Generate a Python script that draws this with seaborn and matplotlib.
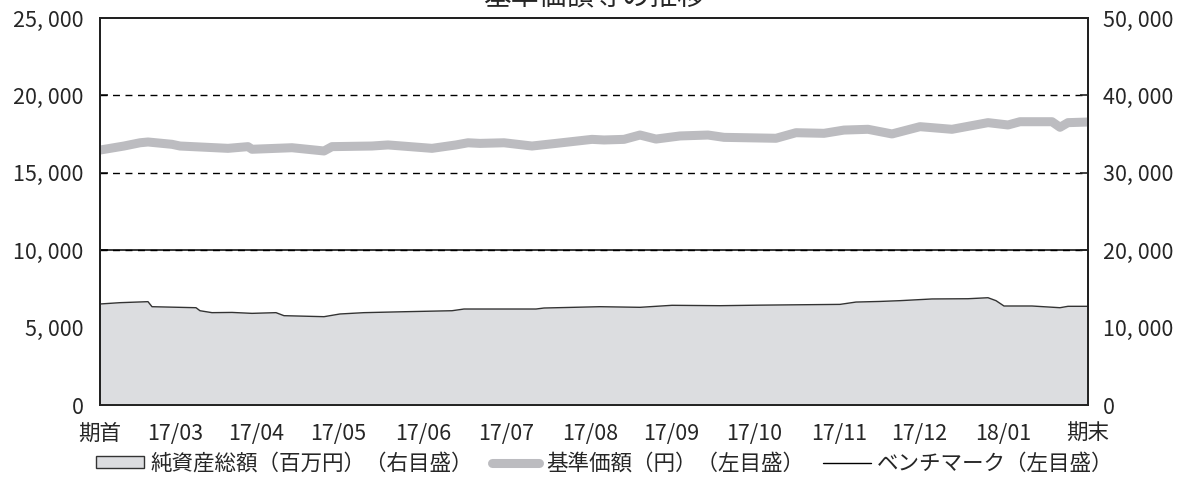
import matplotlib
matplotlib.use("Agg")
import matplotlib.pyplot as plt
from matplotlib.patches import Patch
from matplotlib.lines import Line2D
from matplotlib.ticker import FuncFormatter
import pandas as pd
import seaborn as sns

# x is a day index across the period: 期首 = 0, 期末 = 247

# 基準価額（円） left axis
nav_day = [0, 6, 10, 12, 18, 20, 32, 37, 38, 48, 56, 58, 68, 72, 83, 89, 92, 95,
           101, 108, 114, 123, 126, 131, 135, 139, 145, 152, 156, 169, 174, 181,
           186, 192, 198, 205, 213, 222, 227, 230, 238, 240, 242, 247]
nav = [16470, 16730, 16940, 16990, 16840, 16730, 16580, 16690, 16520, 16620, 16410,
       16690, 16730, 16800, 16580, 16800, 16940, 16900, 16940, 16730, 16900, 17160,
       17120, 17160, 17440, 17180, 17380, 17440, 17290, 17230, 17590, 17550, 17760,
       17810, 17510, 17980, 17810, 18240, 18090, 18300, 18300, 17940, 18240, 18280]

# 純資産総額（百万円） right axis
asset_day = [0, 5, 12, 13, 24, 25, 28, 33, 38, 44, 46, 56, 60, 66, 76, 88, 91, 109,
             111, 125, 135, 143, 155, 165, 175, 185, 189, 195, 200, 208, 217, 222,
             224, 226, 233, 240, 242, 247]
assets = [13050, 13220, 13350, 12700, 12570, 12180, 11930, 11960, 11840, 11930, 11540,
          11410, 11760, 11930, 12050, 12180, 12400, 12400, 12530, 12700, 12620, 12880,
          12830, 12900, 12950, 13000, 13300, 13380, 13480, 13700, 13730, 13860, 13480,
          12790, 12790, 12570, 12750, 12750]

# ベンチマーク（左目盛）
bench_day = [0, 247]
bench = [10000, 10000]

# month boundaries (tick marks) and the axis labels
month_edges = [8, 29.5, 48.5, 70.75, 91, 112, 133, 152.75, 174.5, 195, 214.5, 237]
labels = ["期首", "17/03", "17/04", "17/05", "17/06", "17/07", "17/08", "17/09",
          "17/10", "17/11", "17/12", "18/01", "期末"]

sns.set_style("white")
plt.rcParams["font.family"] = ["Noto Sans CJK JP", "DejaVu Sans"]

nav_df = pd.DataFrame({"day": nav_day, "nav": nav})
asset_df = pd.DataFrame({"day": asset_day, "assets": assets})
bench_df = pd.DataFrame({"day": bench_day, "bench": bench})

fig = plt.figure(figsize=(11.77, 4.91), dpi=100)
ax = fig.add_axes([100 / 1177, 1 - 405 / 491, 988 / 1177, 387 / 491])
ax2 = ax.twinx()

# left axis: grid, NAV, benchmark
for v in [5000, 10000, 15000, 20000]:
    ax.axhline(v, color="black", lw=1.0, ls=(0, (5, 4)), zorder=1)
sns.lineplot(data=nav_df, x="day", y="nav", ax=ax, color="#bcbcc0", lw=6.5,
             solid_capstyle="butt", zorder=3)
sns.lineplot(data=bench_df, x="day", y="bench", ax=ax, color="black", lw=1.1, zorder=4)

# right axis: net assets area
ax2.fill_between(asset_df["day"], asset_df["assets"], 0, color="#dcdde0", lw=0)
sns.lineplot(data=asset_df, x="day", y="assets", ax=ax2, color="#333333", lw=1.0)

ax.set_xlim(0, 247)
ax.set_ylim(0, 25000)
ax2.set_ylim(0, 50000)
ax.set_yticks(range(0, 25001, 5000))
ax2.set_yticks(range(0, 50001, 10000))
fmt = FuncFormatter(lambda v, p: f"{int(v):,}".replace(",", ", "))
ax.yaxis.set_major_formatter(fmt)
ax2.yaxis.set_major_formatter(fmt)

label_pos = [0] + [(a + b) / 2 for a, b in zip(month_edges[:-1], month_edges[1:])] + [247]
ax.set_xticks(month_edges)
ax.set_xticklabels([""] * len(month_edges))
ax.set_xticks(label_pos, minor=True)
ax.set_xticklabels(labels, minor=True)
ax.tick_params(axis="x", which="major", direction="in", length=5.5, width=1.2, color="#222")
ax.tick_params(axis="x", which="minor", length=0, pad=13, labelsize=15.5)
ax.tick_params(axis="y", direction="in", length=5.5, width=1.2, color="#222",
               pad=12, labelsize=15.5)
ax2.tick_params(axis="y", direction="in", length=5.5, width=1.2, color="#222",
                pad=11, labelsize=15.5)
ax.set_xlabel("")
ax.set_ylabel("")
ax2.set_xlabel("")
ax2.set_ylabel("")

for a in (ax, ax2):
    for s in a.spines.values():
        s.set_visible(True)
        s.set_color("#222")
        s.set_linewidth(1.4)

fig.text(594 / 1177, 1 - 5 / 491, "基準価額等の推移", ha="center", va="baseline", fontsize=20)

handles = [
    Patch(facecolor="#dcdde0", edgecolor="#333333", lw=1.0),
    Line2D([0], [0], color="#bcbcc0", lw=6.5),
    Line2D([0], [0], color="black", lw=1.0),
]
names = ["純資産総額（百万円）（右目盛）", "基準価額（円）（左目盛）", "ベンチマーク（左目盛）"]
fig.legend(handles, names, loc="center", bbox_to_anchor=(605 / 1177, 1 - 464 / 491), ncol=3,
           frameon=False, fontsize=15.5, handlelength=2.2, handleheight=0.5,
           handletextpad=0.3, columnspacing=0.9)

fig.savefig("out.png", dpi=100)
